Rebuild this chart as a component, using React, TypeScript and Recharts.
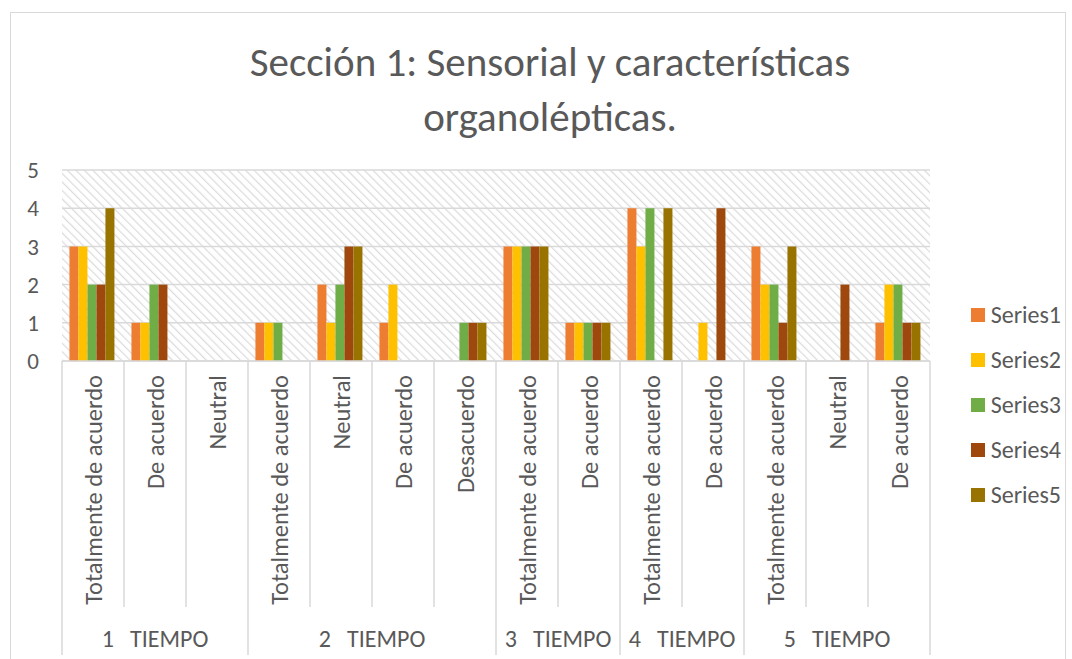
import React from "react";
import {
  Bar,
  BarChart,
  CartesianGrid,
  Legend,
  XAxis,
  YAxis,
} from "recharts";

const categories = [
  "Totalmente de acuerdo",
  "De acuerdo",
  "Neutral",
  "Totalmente de acuerdo",
  "Neutral",
  "De acuerdo",
  "Desacuerdo",
  "Totalmente de acuerdo",
  "De acuerdo",
  "Totalmente de acuerdo",
  "De acuerdo",
  "Totalmente de acuerdo",
  "Neutral",
  "De acuerdo",
];
const groupLabels = ["1   TIEMPO", "2   TIEMPO", "3   TIEMPO", "4   TIEMPO", "5   TIEMPO"];
const groupSizes = [3, 4, 2, 2, 3];

const series1 = [3, 1, 0, 1, 2, 1, 0, 3, 1, 4, 0, 3, 0, 1];
const series2 = [3, 1, 0, 1, 1, 2, 0, 3, 1, 3, 1, 2, 0, 2];
const series3 = [2, 2, 0, 1, 2, 0, 1, 3, 1, 4, 0, 2, 0, 2];
const series4 = [2, 2, 0, 0, 3, 0, 1, 3, 1, 0, 4, 1, 2, 1];
const series5 = [4, 0, 0, 0, 3, 0, 1, 3, 1, 4, 0, 3, 0, 1];

const yTicks = [0, 1, 2, 3, 4, 5];

const seriesNames = ["Series1", "Series2", "Series3", "Series4", "Series5"];
const colors = ["#ED7D31", "#FFC000", "#70AD47", "#9E480E", "#997300"];

const FONT = "Carlito, Calibri, Lato, sans-serif";
const TEXT = "#595959";
const LINE = "#d9d9d9";
const AXIS1_H = 246;
const AXIS2_H = 48;
const LEGEND_W = 90;

// index of the first category in each group
const groupStarts: number[] = [];
groupSizes.reduce((acc, n) => {
  groupStarts.push(acc);
  return acc + n;
}, 0);

const data = categories.map((c, i) => ({
  k: String(i),
  label: c,
  Series1: series1[i],
  Series2: series2[i],
  Series3: series3[i],
  Series4: series4[i],
  Series5: series5[i],
}));

function bandOf(props: any) {
  const off = props.payload && props.payload.offset;
  if (off) return off * 2;
  return props.width / categories.length;
}

function CategoryTick(props: any) {
  const { x, y, index } = props;
  const band = bandOf(props);
  const left = x - band / 2;
  const isStart = groupStarts.includes(index);
  const last = index === categories.length - 1;
  return (
    <g>
      <line
        x1={left}
        x2={left}
        y1={y}
        y2={y + AXIS1_H + (isStart ? AXIS2_H : 0)}
        stroke={LINE}
        strokeWidth={1.5}
      />
      {last && (
        <line
          x1={left + band}
          x2={left + band}
          y1={y}
          y2={y + AXIS1_H + AXIS2_H}
          stroke={LINE}
          strokeWidth={1.5}
        />
      )}
      <text
        x={x + 1}
        y={y + 14}
        transform={`rotate(-90, ${x + 1}, ${y + 14})`}
        textAnchor="end"
        dominantBaseline="central"
        fill={TEXT}
        fontSize={24.5}
        fontFamily={FONT}
      >
        {categories[index]}
      </text>
    </g>
  );
}

function GroupTick(props: any) {
  const { x, y, index } = props;
  const g = groupStarts.indexOf(index);
  if (g < 0) return null;
  const band = bandOf(props);
  const cx = x - band / 2 + (groupSizes[g] * band) / 2;
  return (
    <text
      x={cx}
      y={y + 31}
      textAnchor="middle"
      dominantBaseline="central"
      fill={TEXT}
      fontSize={24}
      fontFamily={FONT}
      style={{ whiteSpace: "pre" }}
    >
      {groupLabels[g]}
    </text>
  );
}

function LegendBox(props: any) {
  const items = props.payload || [];
  return (
    <div style={{ fontFamily: FONT, fontSize: 24, color: TEXT }}>
      {items.map((it: any) => (
        <div key={it.value} style={{ height: 45, display: "flex", alignItems: "center" }}>
          <span
            style={{
              width: 14,
              height: 14,
              background: it.color,
              display: "inline-block",
              marginRight: 6,
            }}
          />
          {it.value}
        </div>
      ))}
    </div>
  );
}

export default function App() {
  return (
    <div
      style={{
        position: "absolute",
        left: 10,
        top: 12,
        width: 1054,
        height: 660,
        borderTop: `1.5px solid ${LINE}`,
        borderLeft: `1.5px solid ${LINE}`,
        borderRight: `1.5px solid ${LINE}`,
        background: "#fff",
        fontFamily: FONT,
      }}
    >
      <svg width={0} height={0} style={{ position: "absolute" }}>
        <defs>
          <pattern
            id="hatch"
            width={6}
            height={6}
            patternUnits="userSpaceOnUse"
            patternTransform="rotate(-45)"
          >
            <rect width={6} height={6} fill="#ffffff" />
            <line x1={0} y1={0} x2={0} y2={6} stroke="#dcdcdc" strokeWidth={2.5} />
          </pattern>
        </defs>
      </svg>
      <div
        style={{
          position: "absolute",
          left: 0,
          width: 1078,
          top: 22,
          textAlign: "center",
          fontSize: 41,
          lineHeight: "55px",
          color: TEXT,
        }}
      >
        Sección 1: Sensorial y características
        <br />
        organolépticas.
      </div>
      <BarChart
        width={1054}
        height={646}
        data={data}
        margin={{ top: 157, right: 135 - LEGEND_W, bottom: 4, left: 0 }}
        barCategoryGap="12%"
        barGap={0}
      >
        <CartesianGrid
          vertical={false}
          stroke={LINE}
          strokeWidth={1.5}
          fill="url(#hatch)"
          fillOpacity={1}
        />
        <XAxis
          dataKey="k"
          height={AXIS1_H}
          interval={0}
          tickLine={false}
          tickSize={0}
          tickMargin={0}
          axisLine={{ stroke: LINE, strokeWidth: 1.5 }}
          tick={<CategoryTick />}
        />
        <XAxis
          xAxisId="grp"
          dataKey="k"
          height={AXIS2_H}
          interval={0}
          tickLine={false}
          tickSize={0}
          tickMargin={0}
          axisLine={false}
          tick={<GroupTick />}
        />
        <YAxis
          width={51}
          domain={[0, 5]}
          ticks={yTicks}
          interval={0}
          tickLine={false}
          axisLine={false}
          tickSize={0}
          tickMargin={23}
          tick={{ fill: TEXT, fontSize: 23, fontFamily: FONT }}
        />
        <Legend
          layout="vertical"
          align="right"
          verticalAlign="top"
          wrapperStyle={{ left: 960, top: 279, width: LEGEND_W }}
          content={<LegendBox />}
        />
        {seriesNames.map((s, i) => (
          <Bar key={s} dataKey={s} fill={colors[i]} isAnimationActive={false} />
        ))}
      </BarChart>
    </div>
  );
}
